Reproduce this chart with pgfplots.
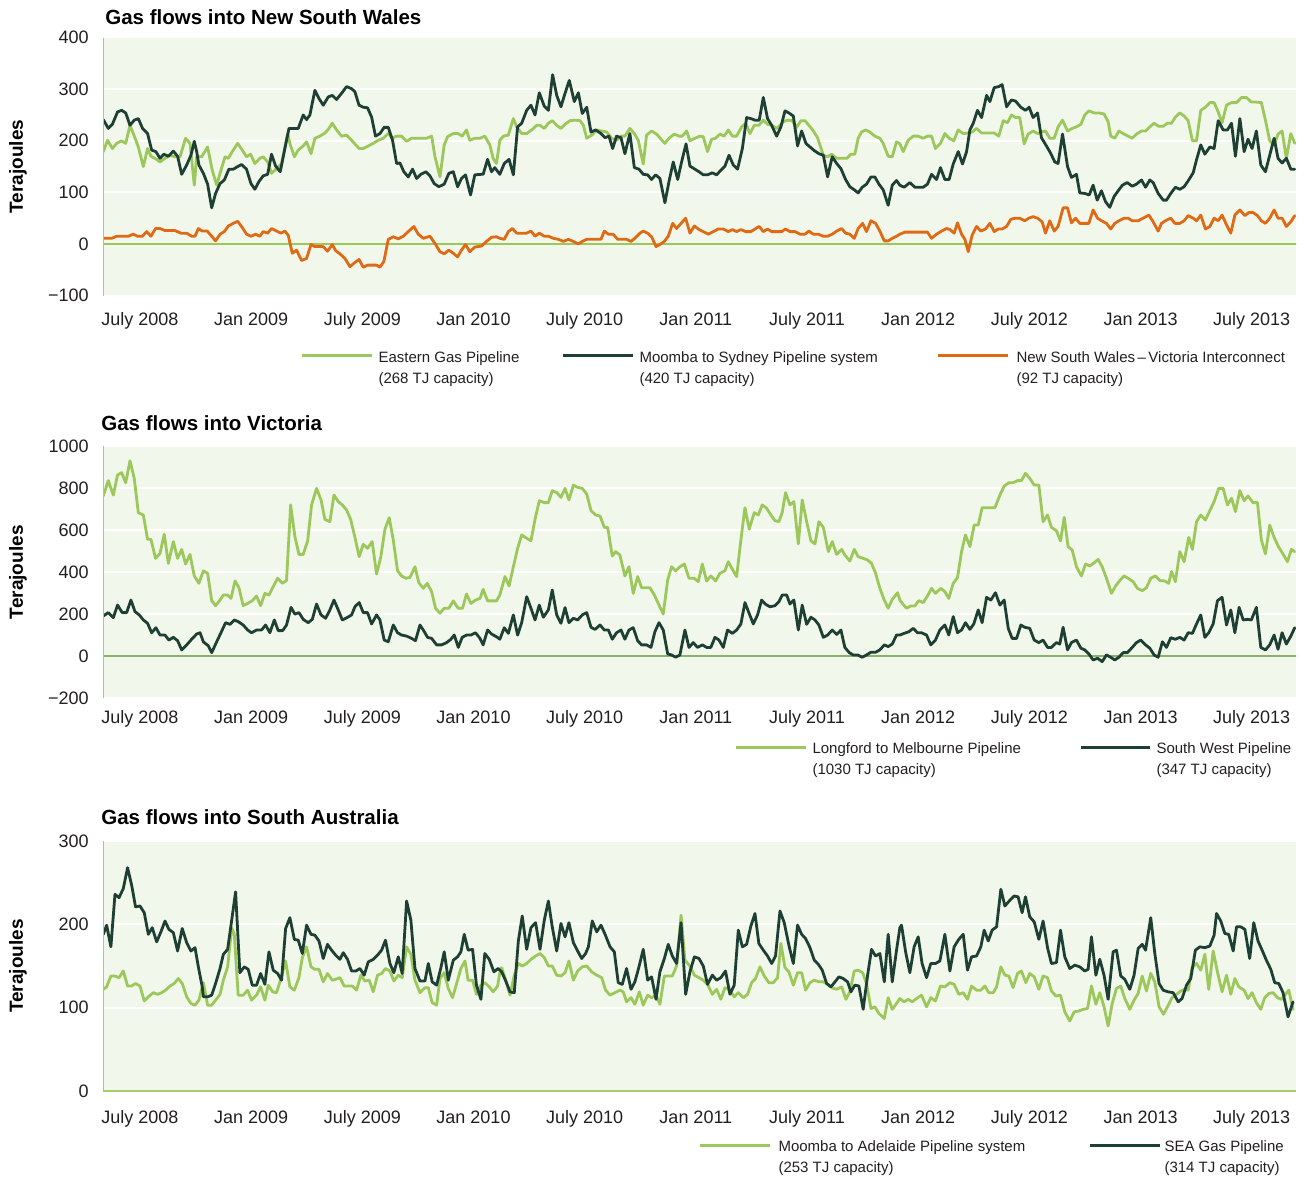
\documentclass[border=0pt]{standalone}
\usepackage{pgfplots}
\pgfplotsset{compat=1.18}
\usepackage{pgfplotstable}
\usepackage{fontspec}
\setmainfont{Liberation Sans}

\definecolor{bgcol}{HTML}{F1F7EA}
\definecolor{lgreen}{HTML}{9CC75B}
\definecolor{dgreen}{HTML}{1E3F33}
\definecolor{orng}{HTML}{DF6A15}
\definecolor{axgreen}{HTML}{A6CF6C}
\definecolor{zerogreen}{HTML}{8CB06C}
\definecolor{labcol}{HTML}{231F20}

% x = months since January 2008 (6 = July 2008), y = terajoules per day
% ---------------- New South Wales ----------------
\pgfplotstableread[row sep=\\]{x y\\
4.02 179\\4.25 201\\4.51 185\\4.74 195\\5.01 200\\5.23 195\\5.46 230\\5.64 214\\5.91 188\\6.18 150\\6.41 185\\6.59 170\\6.81 166\\7.08 159\\7.35 166\\7.62 172\\7.89 169\\8.16 169\\8.46 205\\8.70 195\\8.93 114\\9.06 169\\9.33 169\\9.65 188\\9.90 143\\10.14 114\\10.37 143\\10.59 169\\10.77 166\\10.98 179\\11.27 195\\11.52 182\\11.75 169\\11.97 174\\12.20 156\\12.47 166\\12.65 169\\12.89 159\\13.10 137\\13.37 146\\13.64 156\\13.97 214\\14.09 195\\14.33 169\\14.54 182\\14.81 190\\14.99 198\\15.23 175\\15.44 205\\15.71 209\\15.98 215\\16.16 222\\16.38 234\\16.61 221\\16.88 209\\17.15 211\\17.42 201\\17.83 185\\18.05 185\\18.32 190\\18.59 195\\18.86 201\\19.13 205\\19.40 214\\19.61 205\\19.85 209\\20.12 209\\20.39 199\\20.66 205\\21.02 205\\21.47 205\\21.74 209\\21.92 169\\22.19 130\\22.42 192\\22.60 208\\22.91 214\\23.17 214\\23.39 209\\23.62 221\\23.80 201\\24.07 205\\24.35 205\\24.61 209\\24.88 192\\25.06 166\\25.24 156\\25.42 201\\
25.61 209\\25.88 211\\26.15 243\\26.33 227\\26.60 214\\26.87 214\\27.14 221\\27.41 230\\27.59 230\\27.82 224\\28.04 234\\28.25 239\\28.49 230\\28.72 224\\28.94 232\\29.21 239\\29.48 240\\29.75 239\\29.93 230\\30.11 205\\30.38 211\\30.65 221\\30.92 219\\31.19 217\\31.45 205\\31.72 201\\31.96 209\\32.17 209\\32.44 224\\32.68 214\\32.89 201\\33.16 155\\33.34 211\\33.61 219\\33.88 213\\34.12 203\\34.33 195\\34.55 205\\34.84 213\\35.09 209\\35.27 209\\35.50 219\\35.68 200\\35.95 205\\36.22 209\\36.40 208\\36.63 179\\36.85 203\\37.07 205\\37.30 213\\37.53 209\\37.75 221\\37.97 209\\38.20 209\\38.47 227\\38.69 234\\38.92 214\\39.15 230\\39.40 230\\39.64 240\\39.87 232\\40.09 230\\40.36 224\\40.54 230\\40.72 237\\40.95 240\\41.20 239\\41.44 226\\41.67 239\\41.89 239\\42.10 230\\42.34 219\\42.57 206\\42.88 172\\43.11 169\\43.33 174\\43.60 166\\43.87 166\\44.14 166\\44.37 174\\44.58 174\\44.76 205\\44.94 217\\45.16 221\\45.39 217\\45.66 209\\45.93 205\\46.11 195\\46.38 170\\46.60 169\\46.83 198\\47.01 194\\
47.19 179\\47.46 201\\47.73 209\\48.00 209\\48.27 205\\48.50 209\\48.72 209\\48.93 185\\49.20 195\\49.44 214\\49.67 205\\49.92 200\\50.16 221\\50.43 214\\50.66 215\\50.91 217\\51.15 224\\51.42 215\\51.78 215\\52.10 215\\52.35 209\\52.59 239\\52.82 235\\53.03 250\\53.25 245\\53.48 245\\53.72 194\\53.93 213\\54.20 219\\54.44 214\\54.65 217\\54.87 219\\55.10 205\\55.34 205\\55.55 227\\55.79 240\\56.06 219\\56.31 224\\56.54 227\\56.78 232\\56.99 250\\57.21 258\\57.50 254\\57.75 254\\58.03 252\\58.25 237\\58.39 209\\58.61 205\\58.83 219\\59.11 213\\59.33 209\\59.55 205\\59.78 213\\60.05 219\\60.27 219\\60.50 227\\60.73 234\\60.98 228\\61.22 228\\61.45 234\\61.67 234\\61.88 246\\62.12 254\\62.35 248\\62.57 239\\62.80 200\\63.02 200\\63.25 259\\63.50 265\\63.74 274\\63.97 274\\64.19 256\\64.40 235\\64.64 269\\64.91 274\\65.18 274\\65.45 284\\65.71 284\\65.98 275\\66.25 275\\66.52 274\\66.74 240\\66.97 200\\67.21 192\\67.42 213\\67.64 219\\67.87 166\\68.11 214\\68.32 195\\
}\egp

\pgfplotstableread[row sep=\\]{x y\\
4.02 241\\4.29 224\\4.51 232\\4.79 256\\5.01 259\\5.23 254\\5.46 230\\5.69 240\\5.91 243\\6.14 224\\6.41 214\\6.63 182\\6.86 179\\7.08 166\\7.29 174\\7.53 170\\7.80 180\\8.03 170\\8.25 135\\8.52 153\\8.75 172\\8.93 199\\9.06 179\\9.18 153\\9.42 137\\9.65 116\\9.87 70\\10.08 98\\10.32 117\\10.55 124\\10.80 145\\11.04 145\\11.27 150\\11.48 154\\11.75 145\\11.99 117\\12.20 106\\12.42 121\\12.65 132\\12.89 135\\13.10 174\\13.32 151\\13.57 140\\13.82 185\\14.04 224\\14.29 224\\14.54 224\\14.81 250\\14.99 241\\15.17 250\\15.44 298\\15.66 282\\15.89 269\\16.16 285\\16.38 288\\16.61 280\\16.88 292\\17.15 305\\17.42 301\\17.60 295\\17.82 269\\18.05 265\\18.28 264\\18.50 246\\18.71 209\\18.95 214\\19.18 226\\19.40 226\\19.63 201\\19.85 156\\20.03 157\\20.24 140\\20.48 130\\20.71 145\\20.93 127\\21.16 135\\21.43 140\\21.65 132\\21.88 117\\22.13 111\\22.42 116\\22.67 137\\22.91 140\\23.14 111\\23.35 127\\23.57 134\\23.84 95\\24.07 134\\24.40 135\\24.52 135\\24.76 164\\24.97 140\\25.15 148\\25.42 135\\
25.66 156\\25.92 164\\26.15 134\\26.38 227\\26.60 234\\26.87 259\\27.10 269\\27.32 250\\27.55 293\\27.82 267\\28.04 259\\28.27 328\\28.49 288\\28.72 266\\28.94 292\\29.17 317\\29.44 276\\29.66 293\\29.87 253\\30.11 265\\30.34 217\\30.59 221\\30.88 214\\31.10 206\\31.31 209\\31.51 185\\31.72 209\\31.96 206\\32.17 175\\32.44 214\\32.68 148\\32.93 145\\33.16 135\\33.40 134\\33.61 125\\33.83 134\\34.06 127\\34.33 80\\34.55 121\\34.78 159\\35.02 125\\35.23 159\\35.47 194\\35.68 151\\35.95 145\\36.17 140\\36.40 134\\36.63 134\\36.89 138\\37.12 134\\37.35 143\\37.57 151\\37.79 172\\38.02 153\\38.25 145\\38.51 185\\38.74 245\\38.97 243\\39.19 240\\39.42 240\\39.64 284\\39.87 243\\40.09 230\\40.36 209\\40.59 227\\40.81 258\\41.02 254\\41.26 248\\41.49 190\\41.71 219\\41.94 195\\42.16 188\\42.39 181\\42.64 175\\42.88 172\\43.11 130\\43.36 169\\43.60 156\\43.83 146\\44.08 125\\44.31 111\\44.55 105\\44.76 99\\44.98 110\\45.21 116\\45.45 130\\45.66 130\\45.88 116\\46.11 105\\46.38 75\\46.60 114\\46.83 123\\47.01 114\\
47.24 110\\47.55 119\\47.82 110\\48.27 110\\48.50 116\\48.72 135\\48.99 125\\49.20 148\\49.44 125\\49.67 125\\49.89 155\\50.16 179\\50.39 155\\50.61 179\\50.79 221\\50.97 234\\51.20 259\\51.42 245\\51.69 288\\51.87 276\\52.10 303\\52.35 305\\52.53 309\\52.77 266\\53.03 279\\53.25 277\\53.54 265\\53.79 259\\53.99 265\\54.20 245\\54.44 254\\54.65 206\\54.92 190\\55.16 175\\55.37 159\\55.55 156\\55.79 213\\56.06 150\\56.27 129\\56.54 135\\56.72 99\\56.99 98\\57.23 95\\57.44 114\\57.66 85\\57.89 103\\58.11 82\\58.34 71\\58.57 92\\58.79 103\\59.02 114\\59.28 119\\59.55 112\\59.78 116\\60.05 124\\60.27 110\\60.50 124\\60.68 119\\60.95 98\\61.22 85\\61.40 85\\61.63 98\\61.88 110\\62.12 106\\62.35 111\\62.60 124\\62.84 138\\63.02 163\\63.25 192\\63.47 174\\63.74 188\\63.97 185\\64.19 239\\64.46 221\\64.69 221\\64.91 234\\65.12 170\\65.36 243\\65.59 179\\65.80 203\\66.02 185\\66.25 219\\66.49 153\\66.74 140\\66.97 172\\67.21 205\\67.42 166\\67.64 157\\67.87 166\\68.11 145\\68.32 145\\
}\msp

\pgfplotstableread[row sep=\\]{x y\\
4.02 11\\4.47 11\\4.74 15\\5.37 15\\5.64 19\\5.87 15\\6.13 15\\6.36 24\\6.59 15\\6.84 30\\7.08 30\\7.35 26\\7.89 26\\8.21 21\\8.52 21\\8.79 15\\8.97 15\\9.15 30\\9.36 25\\9.63 25\\9.87 15\\10.08 6\\10.32 19\\10.55 24\\10.77 35\\11.04 40\\11.27 44\\11.52 32\\11.75 19\\11.99 15\\12.24 19\\12.47 15\\12.65 24\\12.89 21\\13.10 30\\13.37 25\\13.61 21\\13.82 25\\14.00 17\\14.22 -18\\14.45 -12\\14.72 -32\\14.99 -28\\15.23 -1\\15.44 -5\\15.89 -5\\16.12 -14\\16.38 -1\\16.56 -13\\16.79 -19\\17.06 -28\\17.33 -44\\17.56 -37\\17.82 -30\\18.05 -45\\18.28 -41\\18.77 -41\\18.95 -45\\19.16 -34\\19.40 9\\19.67 14\\19.94 10\\20.21 15\\20.48 24\\20.78 34\\21.02 19\\21.29 11\\21.65 15\\21.92 1\\22.19 -15\\22.42 -19\\22.67 -12\\22.91 -18\\23.14 -25\\23.35 -12\\23.57 -1\\23.80 -15\\24.07 -6\\24.43 -4\\24.70 5\\24.97 13\\25.24 14\\25.42 11\\
25.66 9\\25.88 24\\26.10 30\\26.33 21\\26.60 21\\26.87 21\\27.10 25\\27.32 15\\27.55 21\\27.82 15\\28.04 15\\28.31 11\\28.58 9\\28.85 5\\29.12 9\\29.39 5\\29.66 0\\29.87 5\\30.11 9\\30.38 9\\30.65 9\\30.88 9\\31.06 25\\31.28 19\\31.54 19\\31.78 9\\31.99 9\\32.26 9\\32.50 5\\32.71 11\\32.98 21\\33.16 25\\33.40 21\\33.61 14\\33.85 -5\\34.06 -1\\34.30 5\\34.51 15\\34.75 40\\34.96 30\\35.20 40\\35.45 50\\35.68 21\\35.92 35\\36.17 28\\36.40 24\\36.67 19\\36.94 24\\37.21 29\\37.48 29\\37.75 24\\37.97 28\\38.20 24\\38.43 28\\38.69 24\\38.97 24\\39.19 29\\39.42 34\\39.64 24\\39.87 29\\40.09 24\\40.36 24\\40.63 24\\40.84 29\\41.08 24\\41.35 24\\41.62 19\\41.89 19\\42.10 25\\42.34 19\\42.61 19\\42.88 15\\43.11 15\\43.36 19\\43.60 25\\43.87 30\\44.08 21\\44.31 19\\44.55 11\\44.76 30\\45.00 40\\45.21 24\\45.45 45\\45.70 40\\45.93 25\\46.17 6\\46.38 6\\46.60 11\\46.83 15\\47.01 19\\
47.28 23\\47.64 23\\48.09 23\\48.50 23\\48.72 11\\48.99 19\\49.26 25\\49.53 30\\49.71 28\\49.94 21\\50.12 41\\50.34 19\\50.52 9\\50.70 -15\\50.91 17\\51.15 34\\51.38 25\\51.63 29\\51.87 40\\52.10 24\\52.32 29\\52.53 29\\52.77 34\\53.00 48\\53.25 50\\53.48 50\\53.75 45\\53.97 50\\54.20 53\\54.44 50\\54.69 43\\54.87 21\\55.10 45\\55.34 25\\55.55 34\\55.82 70\\56.06 70\\56.27 41\\56.49 50\\56.72 40\\56.96 40\\57.21 40\\57.44 66\\57.68 50\\57.89 45\\58.16 40\\58.39 29\\58.61 40\\58.83 45\\59.11 50\\59.33 50\\59.55 45\\59.87 45\\60.14 50\\60.45 56\\60.68 43\\60.95 25\\61.13 40\\61.34 45\\61.63 50\\61.85 40\\62.12 40\\62.35 45\\62.57 55\\62.84 50\\63.02 45\\63.25 56\\63.50 29\\63.74 34\\63.97 50\\64.19 45\\64.40 56\\64.64 37\\64.87 21\\65.09 56\\65.36 66\\65.63 55\\65.84 61\\66.07 61\\66.31 55\\66.52 45\\66.74 40\\66.97 50\\67.21 66\\67.42 50\\67.64 50\\67.87 34\\68.11 43\\68.32 55\\
}\nvi

% ---------------- Victoria ----------------
\pgfplotstableread[row sep=\\]{x y\\
4.02 764\\4.29 837\\4.56 768\\4.79 864\\5.01 875\\5.23 827\\5.46 932\\5.69 848\\5.91 684\\6.18 673\\6.41 557\\6.59 557\\6.84 466\\7.08 490\\7.31 581\\7.53 442\\7.80 546\\8.03 466\\8.25 509\\8.46 439\\8.70 485\\8.93 382\\9.18 347\\9.42 406\\9.65 395\\9.87 264\\10.08 240\\10.32 267\\10.50 291\\10.73 291\\10.91 275\\11.13 358\\11.34 326\\11.57 240\\11.81 251\\12.06 264\\12.29 286\\12.51 240\\12.74 299\\12.96 291\\13.19 331\\13.43 371\\13.68 347\\13.91 360\\14.13 721\\14.36 570\\14.58 485\\14.81 485\\15.05 550\\15.26 721\\15.53 800\\15.77 745\\15.98 652\\16.25 641\\16.47 768\\16.70 737\\16.92 721\\17.15 697\\17.38 649\\17.60 566\\17.83 474\\18.05 533\\18.28 514\\18.53 546\\18.77 391\\19.00 474\\19.22 605\\19.45 660\\19.67 554\\19.90 407\\20.12 382\\20.35 371\\20.57 375\\20.84 426\\21.05 350\\21.29 323\\21.50 347\\21.74 307\\21.95 228\\22.19 204\\22.42 228\\22.67 228\\22.91 263\\23.17 228\\23.41 228\\23.62 296\\23.86 251\\24.11 267\\24.35 275\\24.52 318\\24.76 263\\24.97 263\\25.24 263\\25.42 291\\
25.70 379\\25.92 334\\26.15 426\\26.38 514\\26.60 578\\26.87 562\\27.10 550\\27.32 652\\27.55 741\\27.82 732\\28.04 732\\28.25 789\\28.49 780\\28.72 757\\28.94 800\\29.15 745\\29.39 816\\29.62 805\\29.87 800\\30.11 773\\30.34 694\\30.59 673\\30.83 668\\31.06 614\\31.24 614\\31.49 477\\31.67 498\\31.90 482\\32.17 382\\32.39 426\\32.62 299\\32.86 379\\33.07 326\\33.29 326\\33.52 326\\33.76 291\\33.97 251\\34.24 200\\34.48 363\\34.69 426\\34.91 406\\35.14 426\\35.38 439\\35.63 371\\35.90 371\\36.13 355\\36.35 439\\36.58 358\\36.81 382\\37.07 358\\37.30 395\\37.57 407\\37.75 450\\37.97 414\\38.20 379\\38.43 554\\38.65 708\\38.88 605\\39.15 684\\39.37 673\\39.58 721\\39.82 705\\40.05 673\\40.27 646\\40.48 641\\40.66 684\\40.84 780\\41.08 721\\41.29 737\\41.53 535\\41.74 745\\41.98 641\\42.21 550\\42.43 535\\42.64 641\\42.88 614\\43.15 498\\43.36 546\\43.60 485\\43.87 509\\44.04 482\\44.31 453\\44.55 509\\44.76 474\\45.03 466\\45.27 458\\45.48 442\\45.70 395\\45.93 323\\46.17 267\\46.38 228\\46.60 270\\46.89 302\\47.01 267\\
47.14 251\\47.37 228\\47.60 239\\47.82 239\\48.03 264\\48.27 255\\48.50 286\\48.72 323\\48.93 299\\49.22 323\\49.44 307\\49.65 275\\49.89 347\\50.12 374\\50.34 498\\50.55 578\\50.79 522\\51.02 625\\51.24 625\\51.45 708\\51.74 708\\52.14 708\\52.41 768\\52.64 811\\52.89 827\\53.12 827\\53.36 837\\53.57 837\\53.79 872\\54.02 848\\54.26 816\\54.51 816\\54.74 641\\54.98 673\\55.19 614\\55.46 598\\55.68 549\\55.88 662\\56.09 522\\56.31 506\\56.54 426\\56.81 382\\57.03 439\\57.26 430\\57.50 445\\57.71 461\\57.93 426\\58.16 371\\58.43 299\\58.65 334\\58.88 360\\59.11 382\\59.33 371\\59.60 355\\59.83 323\\60.09 312\\60.32 326\\60.55 371\\60.80 382\\61.04 360\\61.31 358\\61.52 347\\61.67 403\\61.88 355\\62.12 498\\62.35 450\\62.60 566\\62.80 509\\63.02 641\\63.25 673\\63.50 649\\63.74 694\\63.97 737\\64.22 800\\64.46 800\\64.69 721\\64.91 753\\65.12 689\\65.36 789\\65.59 741\\65.80 764\\66.07 732\\66.31 732\\66.52 554\\66.74 487\\66.97 625\\67.21 566\\67.46 519\\67.69 487\\67.93 450\\68.14 509\\68.32 498\\
}\lmp

\pgfplotstableread[row sep=\\]{x y\\
4.02 191\\4.29 207\\4.56 183\\4.79 243\\5.04 207\\5.28 207\\5.51 267\\5.73 212\\5.96 196\\6.18 172\\6.41 156\\6.63 111\\6.86 135\\7.08 100\\7.35 100\\7.56 76\\7.80 89\\8.03 73\\8.25 29\\8.52 53\\8.79 80\\9.06 105\\9.24 111\\9.42 68\\9.69 48\\9.87 16\\10.14 68\\10.37 111\\10.62 159\\10.86 151\\11.09 172\\11.30 164\\11.57 148\\11.81 124\\12.02 111\\12.29 124\\12.56 124\\12.78 148\\13.01 111\\13.25 172\\13.46 121\\13.70 121\\13.91 148\\14.15 232\\14.36 200\\14.58 207\\14.81 175\\15.08 159\\15.30 175\\15.53 248\\15.77 196\\16.02 180\\16.25 220\\16.47 267\\16.70 220\\16.92 172\\17.19 184\\17.42 196\\17.60 235\\17.83 255\\18.05 207\\18.28 207\\18.50 153\\18.77 196\\18.95 172\\19.18 76\\19.40 68\\19.67 148\\19.90 111\\20.12 100\\20.39 95\\20.66 84\\20.87 73\\21.11 148\\21.29 124\\21.52 89\\21.74 84\\22.01 53\\22.28 53\\22.55 64\\22.78 80\\22.96 100\\23.18 41\\23.39 89\\23.63 100\\23.86 100\\24.11 111\\24.35 84\\24.52 53\\24.76 124\\24.97 105\\25.24 92\\25.42 80\\
25.66 135\\25.88 108\\26.15 196\\26.38 100\\26.60 159\\26.87 283\\27.10 228\\27.32 172\\27.55 243\\27.77 185\\28.04 220\\28.25 315\\28.49 196\\28.72 156\\28.94 231\\29.15 159\\29.39 180\\29.62 172\\29.87 196\\30.11 207\\30.34 137\\30.56 127\\30.83 148\\31.06 124\\31.28 124\\31.49 80\\31.72 111\\31.96 124\\32.17 80\\32.39 124\\32.62 135\\32.86 73\\33.07 53\\33.34 53\\33.58 41\\33.79 116\\34.01 159\\34.24 124\\34.48 10\\34.69 5\\34.91 -6\\35.14 5\\35.41 124\\35.63 41\\35.86 64\\36.09 41\\36.35 53\\36.58 41\\36.81 41\\37.03 89\\37.25 76\\37.48 41\\37.71 124\\37.97 108\\38.20 124\\38.43 153\\38.65 255\\38.86 207\\39.10 153\\39.33 196\\39.55 267\\39.76 247\\40.00 235\\40.27 240\\40.48 259\\40.66 291\\40.90 291\\41.08 248\\41.29 267\\41.53 124\\41.74 243\\41.98 151\\42.21 185\\42.43 172\\42.64 148\\42.88 89\\43.11 100\\43.36 124\\43.60 103\\43.83 124\\44.04 41\\44.28 16\\44.49 5\\44.73 5\\44.98 -6\\45.21 5\\45.45 18\\45.70 18\\45.93 29\\46.17 53\\46.38 45\\46.60 57\\46.83 100\\47.01 100\\
47.24 108\\47.50 116\\47.73 132\\47.96 111\\48.18 111\\48.45 100\\48.68 53\\48.93 76\\49.17 124\\49.44 148\\49.65 100\\49.89 188\\50.12 111\\50.34 124\\50.55 159\\50.79 127\\51.00 153\\51.24 220\\51.45 159\\51.69 280\\51.92 267\\52.17 302\\52.41 243\\52.64 267\\52.86 132\\53.07 84\\53.31 84\\53.54 148\\53.75 137\\54.02 132\\54.26 76\\54.51 64\\54.74 76\\54.98 41\\55.19 41\\55.46 64\\55.64 57\\55.82 137\\56.06 29\\56.27 64\\56.54 76\\56.78 37\\56.99 29\\57.21 10\\57.44 -19\\57.68 -11\\57.93 -27\\58.16 5\\58.39 -6\\58.61 -19\\58.83 -6\\59.06 16\\59.29 16\\59.55 41\\59.78 64\\60.01 76\\60.27 53\\60.50 37\\60.73 5\\60.95 -6\\61.18 68\\61.40 41\\61.63 87\\61.88 80\\62.12 89\\62.35 76\\62.57 111\\62.80 108\\63.02 153\\63.25 196\\63.47 89\\63.68 111\\63.92 153\\64.15 264\\64.40 280\\64.64 148\\64.87 220\\65.09 111\\65.32 232\\65.54 172\\65.77 175\\65.98 172\\66.25 232\\66.49 41\\66.74 29\\66.97 53\\67.21 100\\67.42 32\\67.64 111\\67.87 57\\68.11 95\\68.32 135\\
}\swp

% ---------------- South Australia ----------------
\pgfplotstableread[row sep=\\]{x y\\
4.02 122\\4.20 125\\4.43 138\\4.65 138\\4.87 136\\5.10 144\\5.33 126\\5.55 126\\5.76 129\\6.00 126\\6.23 108\\6.45 113\\6.72 118\\6.95 116\\7.17 118\\7.38 121\\7.62 126\\7.85 129\\8.07 135\\8.28 129\\8.52 113\\8.75 105\\8.97 103\\9.18 109\\9.42 130\\9.65 103\\9.87 103\\10.08 109\\10.32 116\\10.50 133\\10.73 149\\10.95 196\\11.09 188\\11.30 115\\11.57 115\\11.81 121\\12.02 109\\12.29 115\\12.51 125\\12.74 109\\12.92 127\\13.16 119\\13.37 118\\13.61 135\\13.86 156\\14.09 125\\14.33 121\\14.58 136\\14.76 160\\14.99 173\\15.23 149\\15.44 146\\15.66 146\\15.89 131\\16.12 141\\16.38 133\\16.56 134\\16.79 136\\17.02 126\\17.24 126\\17.46 126\\17.69 121\\17.92 139\\18.14 132\\18.37 133\\18.59 119\\18.82 139\\19.04 141\\19.25 147\\19.49 144\\19.70 132\\19.94 139\\20.15 136\\20.39 173\\20.62 164\\20.84 133\\21.11 118\\21.38 124\\21.56 124\\21.77 106\\22.01 103\\22.19 135\\22.42 142\\22.64 123\\22.87 112\\23.09 129\\23.32 147\\23.54 156\\23.71 133\\23.95 133\\24.16 116\\24.40 127\\24.61 130\\24.85 125\\25.06 119\\25.30 126\\25.42 142\\
25.52 148\\25.74 133\\25.97 115\\26.20 139\\26.42 153\\26.63 150\\26.87 153\\27.10 158\\27.35 162\\27.59 165\\27.82 160\\28.04 150\\28.25 150\\28.49 139\\28.72 138\\28.94 142\\29.15 156\\29.39 133\\29.62 144\\29.87 149\\30.11 150\\30.38 143\\30.65 139\\30.92 136\\31.13 121\\31.37 115\\31.63 118\\31.90 121\\32.08 119\\32.26 107\\32.50 112\\32.71 104\\32.95 119\\33.16 103\\33.40 115\\33.61 112\\33.85 115\\34.06 104\\34.30 138\\34.51 138\\34.73 138\\34.96 150\\35.20 211\\35.41 157\\35.68 150\\35.92 139\\36.17 136\\36.40 133\\36.63 128\\36.89 116\\37.12 122\\37.35 110\\37.57 124\\37.84 121\\38.07 113\\38.29 118\\38.56 112\\38.79 116\\39.01 130\\39.22 135\\39.46 149\\39.69 138\\39.94 130\\40.18 130\\40.41 136\\40.59 177\\40.81 148\\41.02 143\\41.26 127\\41.49 142\\41.71 142\\41.92 121\\42.16 130\\42.39 133\\42.64 131\\42.88 131\\43.11 128\\43.33 124\\43.60 122\\43.87 125\\44.10 110\\44.31 119\\44.55 144\\44.76 145\\45.00 142\\45.21 129\\45.45 99\\45.66 101\\45.88 93\\46.17 87\\46.38 112\\46.60 98\\46.83 105\\47.01 111\\
47.24 107\\47.46 110\\47.68 107\\47.91 111\\48.18 115\\48.45 101\\48.68 112\\48.93 108\\49.20 126\\49.44 125\\49.71 130\\49.94 128\\50.19 116\\50.43 118\\50.66 110\\50.88 126\\51.15 121\\51.38 121\\51.60 126\\51.81 118\\52.05 118\\52.23 125\\52.46 149\\52.68 139\\52.89 138\\53.12 124\\53.36 141\\53.57 144\\53.81 130\\54.02 141\\54.26 137\\54.51 122\\54.74 138\\54.98 136\\55.19 120\\55.43 114\\55.68 115\\55.91 95\\56.18 84\\56.42 95\\56.67 96\\56.90 98\\57.14 99\\57.35 126\\57.59 104\\57.80 118\\58.03 101\\58.25 78\\58.47 105\\58.70 123\\58.93 126\\59.15 111\\59.42 98\\59.65 109\\59.87 117\\60.09 138\\60.32 120\\60.55 141\\60.77 131\\61.00 101\\61.24 92\\61.45 101\\61.70 112\\61.94 116\\62.17 120\\62.39 122\\62.57 121\\62.78 148\\63.02 153\\63.25 145\\63.47 164\\63.68 122\\63.92 168\\64.15 143\\64.40 119\\64.64 139\\64.87 116\\65.09 135\\65.30 125\\65.59 121\\65.80 111\\66.02 118\\66.25 106\\66.49 98\\66.70 112\\66.92 117\\67.15 118\\67.39 112\\67.60 110\\67.82 116\\68.00 121\\68.23 98\\
}\map

\pgfplotstableread[row sep=\\]{x y\\
4.02 188\\4.20 199\\4.43 173\\4.65 236\\4.87 232\\5.10 243\\5.33 268\\5.55 247\\5.76 221\\6.00 222\\6.23 214\\6.45 188\\6.66 196\\6.90 179\\7.13 191\\7.35 204\\7.56 194\\7.80 190\\8.03 168\\8.28 195\\8.52 178\\8.75 168\\8.97 172\\9.15 149\\9.36 125\\9.42 113\\9.65 113\\9.87 115\\10.08 129\\10.32 147\\10.50 164\\10.73 170\\10.95 205\\11.16 239\\11.39 142\\11.63 149\\11.84 146\\12.06 127\\12.29 127\\12.51 141\\12.74 128\\12.96 167\\13.19 145\\13.43 141\\13.64 133\\13.86 195\\14.09 208\\14.33 182\\14.54 181\\14.76 165\\14.99 199\\15.23 188\\15.44 187\\15.66 180\\15.89 159\\16.12 176\\16.34 169\\16.56 163\\16.79 158\\16.97 166\\17.20 158\\17.42 144\\17.65 144\\17.87 147\\18.10 139\\18.32 155\\18.59 158\\18.82 163\\19.04 169\\19.25 181\\19.49 153\\19.70 142\\19.94 161\\20.15 141\\20.39 228\\20.62 205\\20.84 147\\21.11 132\\21.38 132\\21.56 153\\21.77 131\\22.01 127\\22.24 148\\22.42 167\\22.64 133\\22.91 157\\23.14 161\\23.32 167\\23.50 188\\23.71 169\\23.95 170\\24.16 127\\24.40 110\\24.61 165\\24.85 158\\25.10 143\\25.33 147\\
25.52 143\\25.74 132\\25.97 119\\26.20 118\\26.42 180\\26.63 210\\26.87 170\\27.10 196\\27.35 202\\27.59 170\\27.82 205\\28.04 228\\28.25 197\\28.49 168\\28.72 201\\28.94 185\\29.15 202\\29.39 178\\29.62 168\\29.84 159\\30.05 165\\30.20 173\\30.41 204\\30.65 191\\30.88 199\\31.10 188\\31.37 173\\31.60 167\\31.81 130\\32.03 128\\32.26 147\\32.50 122\\32.71 131\\32.93 149\\33.16 170\\33.40 133\\33.61 137\\33.85 110\\34.06 143\\34.30 159\\34.51 176\\34.73 162\\34.96 153\\35.20 202\\35.45 116\\35.68 143\\35.92 161\\36.17 159\\36.40 150\\36.63 128\\36.89 139\\37.12 133\\37.35 136\\37.60 144\\37.84 116\\38.07 127\\38.29 193\\38.51 173\\38.74 176\\38.97 198\\39.19 213\\39.40 177\\39.64 169\\39.87 162\\40.09 153\\40.30 162\\40.54 216\\40.77 202\\41.02 175\\41.26 153\\41.49 199\\41.71 188\\41.92 183\\42.16 172\\42.39 157\\42.61 152\\42.82 145\\43.06 129\\43.29 125\\43.51 131\\43.72 137\\43.95 135\\44.19 131\\44.37 119\\44.58 127\\44.80 126\\45.03 98\\45.27 139\\45.48 170\\45.70 162\\45.93 165\\46.17 131\\46.38 188\\46.60 131\\46.83 169\\47.01 196\\
47.10 199\\47.32 167\\47.55 142\\47.78 173\\48.00 185\\48.21 153\\48.45 136\\48.68 153\\48.93 153\\49.17 156\\49.44 188\\49.71 144\\49.94 173\\50.19 182\\50.43 188\\50.66 145\\50.88 161\\51.15 162\\51.38 173\\51.56 193\\51.78 180\\51.99 193\\52.23 197\\52.46 242\\52.68 222\\52.95 229\\53.18 234\\53.39 233\\53.61 214\\53.79 233\\54.02 209\\54.26 203\\54.51 182\\54.74 204\\54.98 172\\55.19 153\\55.46 154\\55.68 193\\55.91 161\\56.18 147\\56.45 151\\56.72 149\\56.99 144\\57.17 146\\57.35 185\\57.59 139\\57.80 158\\58.03 139\\58.25 110\\58.52 167\\58.70 169\\58.93 138\\59.15 134\\59.42 122\\59.65 139\\59.87 171\\60.09 176\\60.27 169\\60.55 208\\60.77 165\\61.00 129\\61.22 121\\61.49 119\\61.76 118\\62.03 107\\62.24 111\\62.48 127\\62.71 135\\62.96 169\\63.20 173\\63.47 172\\63.74 174\\63.97 187\\64.10 213\\64.33 204\\64.55 189\\64.76 188\\65.00 168\\65.18 197\\65.41 197\\65.63 194\\65.89 159\\66.11 202\\66.34 180\\66.56 169\\66.79 157\\67.03 146\\67.24 130\\67.46 129\\67.69 118\\67.96 89\\68.23 107\\
}\sea

\newcommand\ticksize{\fontsize{9}{10.5}\selectfont}
\newcommand\legsize{\fontsize{7.5}{9}\selectfont}
\newcommand\titlesize{\bfseries\fontsize{10.25}{12}\selectfont}

\pgfplotsset{
  flowaxis/.style={
    scale only axis, width=596.35pt, xmin=4.02, xmax=68.39,
    axis background/.style={fill=bgcol},
    axis line style={draw=none},
    xtick={6,12,...,66},
    xticklabels={July 2008,Jan 2009,July 2009,Jan 2010,July 2010,Jan 2011,July 2011,Jan 2012,July 2012,Jan 2013,July 2013},
    major tick length=0pt,
    ymajorgrids, grid style={white, line width=0.9pt},
    tick label style={font=\ticksize, text=labcol},
    yticklabel style={anchor=east, inner sep=0pt, xshift=-7.15pt},
    xticklabel style={anchor=base, inner sep=0pt},
    ylabel={Terajoules},
    % the label is turned by 90 degrees, so its own y direction points left
    ylabel style={font=\bfseries\fontsize{9.5}{11}\selectfont, at={(axis description cs:0,0.5)}, anchor=center, rotate=0, yshift=42.65pt},
    every axis plot/.append style={line width=1.4pt, line join=round, line cap=round},
  },
}

\begin{document}
\begin{tikzpicture}
\useasboundingbox (0,0) rectangle (652.5pt,589pt);

% New South Wales
\begin{axis}[flowaxis, name=nsw, at={(51.65pt,441.2pt)}, anchor=south west,
  height=129pt, ymin=-100, ymax=400, ytick={-100,0,...,400},
  yticklabels={−100,0,100,200,300,400}, xticklabel style={yshift=-15.2pt}]
  \draw[lgreen, line width=0.6pt] (axis cs:4,0) -- (axis cs:69,0);
  \addplot[lgreen] table[x=x,y=y]{\egp};
  \addplot[dgreen] table[x=x,y=y]{\msp};
  \addplot[orng] table[x=x,y=y]{\nvi};
\end{axis}
\draw[axgreen, line width=0.8pt] (nsw.south west) -- (nsw.north west);

% Victoria
\begin{axis}[flowaxis, name=vic, at={(51.65pt,240.05pt)}, anchor=south west,
  height=125.7pt, ymin=-200, ymax=1000, ytick={-200,0,...,1000},
  yticklabels={−200,0,200,400,600,800,1000}, xticklabel style={yshift=-13pt}]
  \draw[zerogreen, line width=1pt] (axis cs:4,0) -- (axis cs:69,0);
  \addplot[lgreen] table[x=x,y=y]{\lmp};
  \addplot[dgreen] table[x=x,y=y]{\swp};
\end{axis}
\draw[axgreen, line width=0.8pt] (vic.south west) -- (vic.north west);

% South Australia
\begin{axis}[flowaxis, name=sa, at={(51.65pt,43.5pt)}, anchor=south west,
  height=125pt, ymin=0, ymax=300, ytick={0,100,200,300},
  yticklabels={0,100,200,300}, xticklabel style={yshift=-16.3pt}]
  \addplot[lgreen] table[x=x,y=y]{\map};
  \addplot[dgreen] table[x=x,y=y]{\sea};
\end{axis}
\draw[axgreen, line width=0.8pt] (sa.north west) -- (sa.south west) -- (sa.south east);

% titles and legends, positioned on a 0.5pt grid measured from the top left
\begin{scope}[shift={(0pt,589pt)}, x=0.5pt, y=-0.5pt]
  \node[anchor=base west, inner sep=0pt, font=\titlesize] at (105,25) {Gas flows into New South Wales};
  \node[anchor=base west, inner sep=0pt, font=\titlesize] at (101,431) {Gas flows into Victoria};
  \node[anchor=base west, inner sep=0pt, font=\titlesize] at (101,825) {Gas flows into South Australia};

  \begin{scope}[every node/.style={anchor=base west, inner sep=0pt, font=\legsize, text=labcol}, line width=1.5pt]
    \draw[lgreen] (302,356) -- (372,356);
    \node at (377,363) {Eastern Gas Pipeline};
    \node at (377,384) {(268 TJ capacity)};
    \draw[dgreen] (563,356) -- (633,356);
    \node at (638,363) {Moomba to Sydney Pipeline system};
    \node at (638,384) {(420 TJ capacity)};
    \draw[orng] (938,356) -- (1008,356);
    \node at (1015,363) {New South Wales\,–\,Victoria Interconnect};
    \node at (1015,384) {(92 TJ capacity)};

    \draw[lgreen] (736,747.5) -- (806,747.5);
    \node at (811,754) {Longford to Melbourne Pipeline};
    \node at (811,775) {(1030 TJ capacity)};
    \draw[dgreen] (1081,747.5) -- (1150,747.5);
    \node at (1155,754) {South West Pipeline};
    \node at (1155,775) {(347 TJ capacity)};

    \draw[lgreen] (700,1145.5) -- (770,1145.5);
    \node at (777,1151.5) {Moomba to Adelaide Pipeline system};
    \node at (777,1172.5) {(253 TJ capacity)};
    \draw[dgreen] (1090,1145.5) -- (1160,1145.5);
    \node at (1163,1151.5) {SEA Gas Pipeline};
    \node at (1163,1172.5) {(314 TJ capacity)};
  \end{scope}
\end{scope}
\end{tikzpicture}
\end{document}
